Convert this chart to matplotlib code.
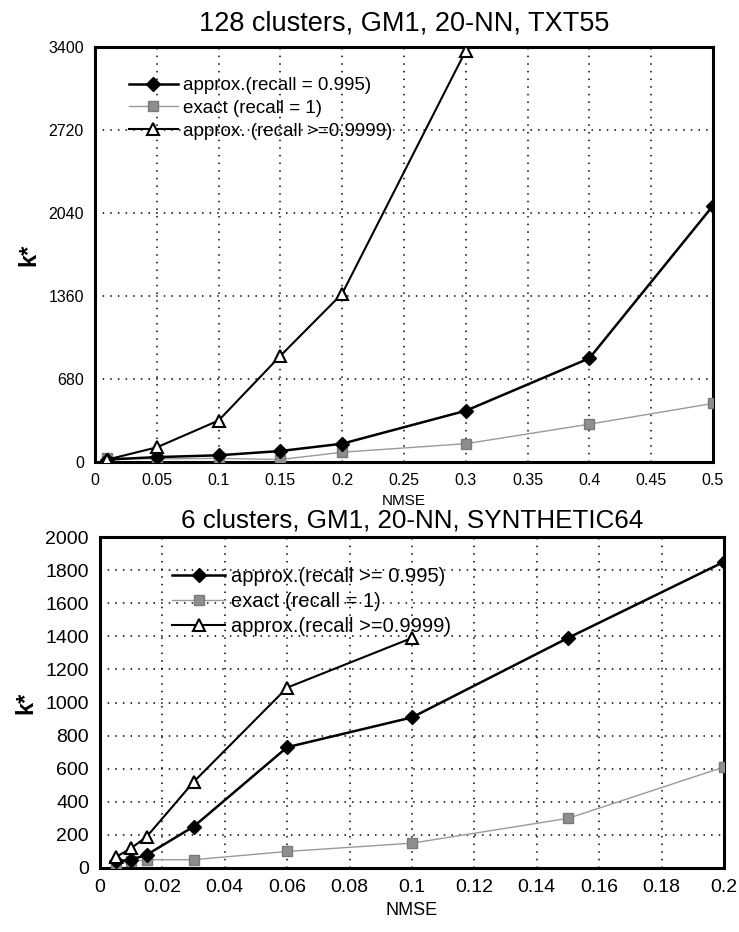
import matplotlib.pyplot as plt
from matplotlib.ticker import FuncFormatter

plt.rcParams['font.family'] = ['Liberation Sans', 'DejaVu Sans']

# top panel: 128 clusters, TXT55
top_nmse = [0.01, 0.05, 0.1, 0.15, 0.2, 0.3, 0.4, 0.5]
top_approx = [20, 40, 55, 90, 150, 420, 850, 2100]
top_exact = [30, 25, 30, 20, 80, 150, 310, 480]
top_nmse_hi = [0.01, 0.05, 0.1, 0.15, 0.2, 0.3]
top_approx_hi = [20, 120, 340, 870, 1380, 3370]

# bottom panel: 6 clusters, SYNTHETIC64
bot_nmse = [0.005, 0.01, 0.015, 0.03, 0.06, 0.1, 0.15, 0.2]
bot_approx = [40, 50, 80, 250, 730, 910, 1390, 1850]
bot_exact = [20, 40, 50, 50, 100, 150, 300, 610]
bot_nmse_hi = [0.005, 0.01, 0.015, 0.03, 0.06, 0.1]
bot_approx_hi = [65, 120, 190, 520, 1090, 1390]

top_labels = ['approx.(recall = 0.995)', 'exact (recall = 1)', 'approx. (recall >=0.9999)']
bot_labels = ['approx.(recall >= 0.995)', 'exact (recall = 1)', 'approx.(recall >=0.9999)']

W, H = 739, 932
fig = plt.figure(figsize=(W / 100, H / 100), dpi=100)


def box(l, t, r, b):
  return [l / W, 1 - b / H, (r - l) / W, (b - t) / H]


def draw(ax, x, ya, ye, xh, yh, labels, title, xticks, yticks, legend_pos, sizes):
  tick_fs, title_fs, title_pad, leg_fs, xl_fs = sizes
  ax.plot(x, ya, color='black', lw=1.8, marker='D', ms=7, label=labels[0], zorder=4)
  ax.plot(x, ye, color='#9a9a9a', lw=1.0, marker='s', ms=7, mfc='#8e8e8e', mec='#7a7a7a',
          label=labels[1], zorder=3)
  ax.plot(xh, yh, color='black', lw=1.5, marker='^', ms=9, mfc='white', mec='black', mew=1.5,
          label=labels[2], zorder=5)
  ax.set_xlim(xticks[0], xticks[-1])
  ax.set_ylim(yticks[0], yticks[-1])
  ax.set_xticks(xticks)
  ax.set_yticks(yticks)
  ax.xaxis.set_major_formatter(FuncFormatter(lambda v, p: '%g' % round(v, 4)))
  ax.grid(True, color='black', linestyle=(0, (1, 4)), linewidth=1.1)
  ax.tick_params(length=0, labelsize=tick_fs, pad=8)
  for s in ax.spines.values():
    s.set_linewidth(2.2)
  ax.set_title(title, fontsize=title_fs, pad=title_pad)
  ax.set_xlabel('NMSE', fontsize=xl_fs)
  ax.set_ylabel('k*', fontsize=17, fontweight='bold', labelpad=6)
  ax.legend(loc='upper left', bbox_to_anchor=legend_pos, frameon=False, fontsize=leg_fs,
            handlelength=2.6, labelspacing=0.3, handletextpad=0.3, borderpad=0)


ax1 = fig.add_axes(box(95, 47, 713, 462))
draw(ax1, top_nmse, top_approx, top_exact, top_nmse_hi, top_approx_hi, top_labels,
     '128 clusters, GM1, 20-NN, TXT55',
     [0, 0.05, 0.1, 0.15, 0.2, 0.25, 0.3, 0.35, 0.4, 0.45, 0.5],
     [0, 680, 1360, 2040, 2720, 3400], (0.04, 0.95), (11.5, 19.5, 12, 13.5, 11))

ax2 = fig.add_axes(box(100, 537, 724, 868))
draw(ax2, bot_nmse, bot_approx, bot_exact, bot_nmse_hi, bot_approx_hi, bot_labels,
     '6 clusters, GM1, 20-NN, SYNTHETIC64',
     [0, 0.02, 0.04, 0.06, 0.08, 0.1, 0.12, 0.14, 0.16, 0.18, 0.2],
     [0, 200, 400, 600, 800, 1000, 1200, 1400, 1600, 1800, 2000], (0.10, 0.94),
     (14, 18.7, 7, 14.5, 13))

fig.savefig('out.png', dpi=100)
